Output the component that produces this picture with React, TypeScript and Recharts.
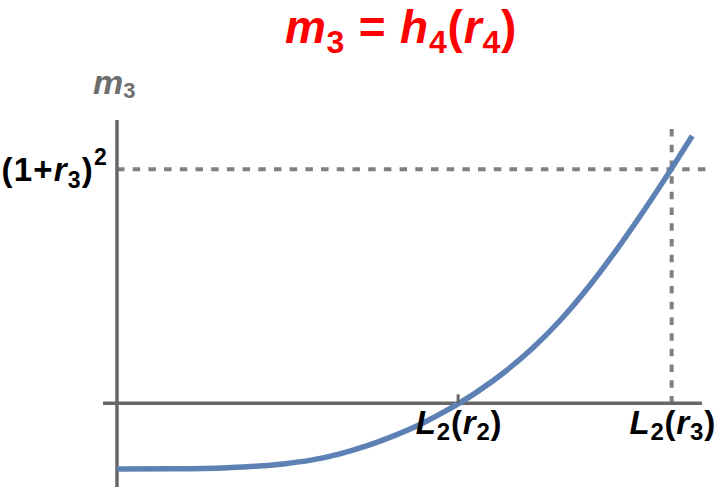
import React from "react";
import { LineChart, Line, XAxis, YAxis, ReferenceLine, ReferenceDot } from "recharts";

// curve m3 = h4(r4) (x: 1 = L2(r3), y: 1 = (1+r3)^2)
const curveX = [0, 0.1, 0.2, 0.25, 0.3, 0.35, 0.4, 0.45, 0.5, 0.55, 0.6, 0.65, 0.7, 0.75, 0.8, 0.85, 0.9, 0.95, 1.0, 1.037];
const curveY = [-0.281, -0.28, -0.275, -0.269, -0.259, -0.243, -0.217, -0.182, -0.138, -0.086, -0.023, 0.05, 0.136, 0.237, 0.357, 0.497, 0.654, 0.824, 1.004, 1.143];

const L2r2 = 0.615;
const L2r3 = 1.0;
const yMark = 1.0;

const xDomain = [-0.0252, 1.0745];
const yDomain = [-0.3577, 1.2107];
const xAxisEnd = 1.0546;
const vDashTop = 1.172;

const data = curveX.map((x, i) => ({ x, y: curveY[i] }));

const FONT = "'Liberation Sans', Arial, Helvetica, sans-serif";
const AXIS = "#676767";
const DASH = "#808080";
const BLUE = "#5E81B5";

type Part = [string, "i" | "n" | "sub" | "sup"];

function MathText({ x, y, parts, size, small, subShift, supShift, anchor = "start", fill = "#000", spacing = 0 }: any) {
  let offset = 0;
  return (
    <text x={x} y={y} textAnchor={anchor} fill={fill} fontFamily={FONT} fontWeight="bold" fontSize={size} letterSpacing={spacing}>
      {(parts as Part[]).map(([t, kind], i) => {
        const target = kind === "sub" ? subShift : kind === "sup" ? -supShift : 0;
        const dy = target - offset;
        offset = target;
        return (
          <tspan
            key={i}
            dy={dy}
            fontStyle={kind === "i" ? "italic" : "normal"}
            fontSize={kind === "sub" || kind === "sup" ? small : size}
          >
            {t}
          </tspan>
        );
      })}
    </text>
  );
}

const titleParts: Part[] = [["m", "i"], ["3", "sub"], [" = ", "n"], ["h", "i"], ["4", "sub"], ["(", "n"], ["r", "i"], ["4", "sub"], [")", "n"]];
const yLabelParts: Part[] = [["m", "i"], ["3", "sub"]];
const yTickParts: Part[] = [["(1+", "n"], ["r", "i"], ["3", "sub"], [")", "n"], ["2", "sup"]];
const l2r2Parts: Part[] = [["L", "i"], ["2", "sub"], ["(", "n"], ["r", "i"], ["2", "sub"], [")", "n"]];
const l2r3Parts: Part[] = [["L", "i"], ["2", "sub"], ["(", "n"], ["r", "i"], ["3", "sub"], [")", "n"]];

const XTick = ({ cx, cy, parts, mark }: any) => (
  <g>
    {mark && <line x1={cx} x2={cx} y1={cy} y2={cy - 9} stroke={AXIS} strokeWidth={3} />}
    <MathText x={cx + 1} y={cy + 31} parts={parts} size={33} small={24} subShift={6} supShift={0} anchor="middle" spacing={0.8} />
  </g>
);

const YTick = ({ cx, cy }: any) => (
  <MathText x={cx - 9} y={cy + 12} parts={yTickParts} size={33} small={23} subShift={7} supShift={16} anchor="end" spacing={1.2} />
);

export default function App() {
  return (
    <div style={{ position: "absolute", left: 0, top: 0, width: 720, height: 490, background: "#fff" }}>
      <LineChart width={720} height={490} data={data} margin={{ top: 120, right: 7, bottom: 3, left: 103 }}>
        <XAxis type="number" dataKey="x" domain={xDomain} allowDataOverflow hide />
        <YAxis type="number" domain={yDomain} allowDataOverflow hide />
        <ReferenceLine
          segment={[{ x: 0, y: yMark }, { x: xDomain[1], y: yMark }]}
          stroke={DASH}
          strokeWidth={4}
          strokeDasharray="7.5 8.2"
        />
        <ReferenceLine
          segment={[{ x: L2r3, y: vDashTop }, { x: L2r3, y: 0 }]}
          stroke={DASH}
          strokeWidth={4}
          strokeDasharray="7.5 8.2"
        />
        <ReferenceLine x={0} stroke={AXIS} strokeWidth={3.5} />
        <ReferenceLine segment={[{ x: xDomain[0], y: 0 }, { x: xAxisEnd, y: 0 }]} stroke={AXIS} strokeWidth={3.5} />
        <Line
          type="monotone"
          dataKey="y"
          stroke={BLUE}
          strokeWidth={5.5}
          dot={false}
          isAnimationActive={false}
        />
        <ReferenceDot x={L2r2} y={0} r={0} ifOverflow="visible" shape={(p: any) => <XTick {...p} parts={l2r2Parts} mark />} />
        <ReferenceDot x={L2r3} y={0} r={0} ifOverflow="visible" shape={(p: any) => <XTick {...p} parts={l2r3Parts} />} />
        <ReferenceDot x={0} y={yMark} r={0} ifOverflow="visible" shape={(p: any) => <YTick {...p} />} />
      </LineChart>
      <svg width={720} height={490} style={{ position: "absolute", left: 0, top: 0, pointerEvents: "none" }}>
        <MathText x={401} y={43} parts={titleParts} size={46} small={32} subShift={10} supShift={0} anchor="middle" fill="#FF0000" spacing={0.8} />
        <MathText x={93} y={94} parts={yLabelParts} size={34} small={22} subShift={4} supShift={0} fill="#6E6E6E" />
      </svg>
    </div>
  );
}
